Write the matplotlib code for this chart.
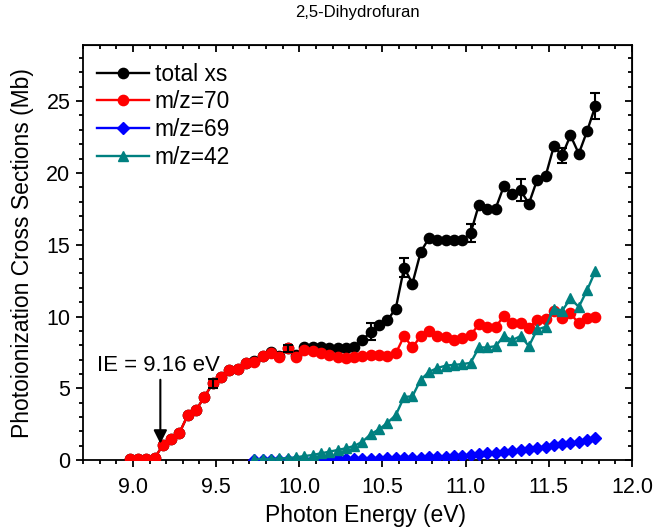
import matplotlib
matplotlib.use("Agg")
import matplotlib.pyplot as plt
import numpy as np
from matplotlib.ticker import MultipleLocator, FormatStrFormatter

plt.rcParams["font.family"] = ["Liberation Sans", "DejaVu Sans"]

# photon energies (eV) of the scan
energy = [8.98, 9.03, 9.08, 9.13, 9.18, 9.23, 9.28, 9.33, 9.38, 9.43,
          9.48, 9.53, 9.58, 9.63, 9.68, 9.73, 9.78, 9.83, 9.88, 9.93,
          9.98, 10.03, 10.08, 10.13, 10.18, 10.23, 10.28, 10.33, 10.38, 10.43,
          10.48, 10.53, 10.58, 10.63, 10.68, 10.73, 10.78, 10.83, 10.88, 10.93,
          10.98, 11.03, 11.08, 11.13, 11.18, 11.23, 11.28, 11.33, 11.38, 11.43,
          11.48, 11.53, 11.58, 11.63, 11.68, 11.73, 11.78]

total_xs = [0.10, 0.10, 0.10, 0.12, 1.06, 1.45, 1.91, 3.14, 3.49, 4.42,
            5.35, 5.81, 6.27, 6.32, 6.74, 6.88, 7.28, 7.52, 7.25, 7.80,
            7.35, 7.85, 7.89, 7.85, 7.78, 7.78, 7.78, 7.89, 8.36, 8.95,
            9.40, 9.75, 10.56, 13.40, 12.30, 14.50, 15.47, 15.36, 15.36, 15.31,
            15.31, 15.81, 17.80, 17.52, 17.52, 19.09, 18.56, 18.79, 17.86, 19.53,
            19.76, 21.85, 21.22, 22.61, 21.34, 22.91, 24.67]

mz70 = [0.10, 0.10, 0.10, 0.12, 1.06, 1.45, 1.91, 3.14, 3.49, 4.42,
        5.35, 5.81, 6.27, 6.32, 6.74, 6.85, 7.25, 7.48, 7.20, 7.78,
        7.20, 7.66, 7.61, 7.48, 7.32, 7.16, 7.09, 7.20, 7.25, 7.32,
        7.32, 7.25, 7.43, 8.64, 7.85, 8.64, 9.00, 8.64, 8.59, 8.36,
        8.48, 8.71, 9.47, 9.28, 9.28, 10.03, 9.56, 9.52, 9.21, 9.75,
        9.80, 10.40, 9.87, 10.22, 9.52, 9.87, 9.98]

# fragments are only recorded from 9.73 eV upward
frag_energy = energy[15:]

mz69 = [0.02, 0.02, 0.02, 0.03, 0.03, 0.03, 0.04, 0.04, 0.05, 0.05,
        0.06, 0.07, 0.08, 0.09, 0.10, 0.11, 0.12, 0.14, 0.15, 0.17,
        0.18, 0.20, 0.22, 0.24, 0.27, 0.30, 0.34, 0.41, 0.47, 0.52,
        0.60, 0.66, 0.72, 0.80, 0.88, 0.95, 1.03, 1.12, 1.20, 1.28,
        1.38, 1.52]

mz42 = [0.05, 0.08, 0.10, 0.12, 0.15, 0.20, 0.29, 0.36, 0.48, 0.59,
        0.71, 0.83, 0.99, 1.29, 1.82, 2.15, 2.61, 3.14, 4.40, 4.45,
        5.60, 6.15, 6.42, 6.58, 6.64, 6.69, 6.78, 7.85, 7.85, 7.94,
        8.64, 8.36, 8.64, 7.94, 9.10, 9.28, 10.56, 10.40, 11.26, 10.67,
        11.84, 13.18]

# uncertainties on the total cross section at selected energies
err_energy = [9.48, 9.93, 10.43, 10.63, 11.03, 11.33, 11.58, 11.78]
err_size = [0.30, 0.25, 0.60, 0.65, 0.60, 0.76, 0.53, 0.89]

ie_value = 9.16

fig = plt.figure(figsize=(6.57, 5.30), dpi=100)
ax = fig.add_axes([0.1263, 0.1317, 0.962 - 0.1263, 0.915 - 0.1317])

ms = 7.4
lw = 1.7
ax.plot(energy, total_xs, color="black", marker="o", ms=ms, lw=lw,
        label="total xs", zorder=2)
ax.plot(energy, mz70, color="#ff0000", marker="o", ms=ms, lw=lw,
        label="m/z=70", zorder=3)
ax.plot(frag_energy, mz69, color="#0000ff", marker="D", ms=ms * 0.82, lw=lw,
        label="m/z=69", zorder=4)
ax.plot(frag_energy, mz42, color="#008080", marker="^", ms=ms, lw=lw,
        label="m/z=42", zorder=5)

err_y = [total_xs[energy.index(e)] for e in err_energy]
ax.errorbar(err_energy, err_y, yerr=err_size, fmt="none", ecolor="black",
            elinewidth=1.5, capsize=3.4, capthick=1.5, zorder=6)

# ionization energy marker
ax.annotate("", xy=(ie_value + 0.005, 1.15), xytext=(ie_value + 0.005, 5.6),
            arrowprops=dict(arrowstyle="-|>", color="black", lw=1.5,
                            mutation_scale=20, shrinkA=0, shrinkB=0))
ax.text(8.785, 6.6, "IE = 9.16 eV", fontsize=16, ha="left", va="center")

ax.set_xlim(8.7, 12.0)
ax.set_ylim(0, 28.9)
ax.xaxis.set_major_locator(MultipleLocator(0.5))
ax.xaxis.set_minor_locator(MultipleLocator(0.1))
ax.xaxis.set_major_formatter(FormatStrFormatter("%.1f"))
ax.yaxis.set_major_locator(MultipleLocator(5))
ax.yaxis.set_minor_locator(MultipleLocator(1))
ax.tick_params(which="both", direction="out", labelsize=15.5, width=1.3)
ax.tick_params(which="major", length=5)
ax.tick_params(which="minor", length=3)
ax.tick_params(axis="x", which="major", pad=7)
ax.tick_params(axis="y", which="major", pad=4)
for spine in ax.spines.values():
    spine.set_linewidth(1.3)

# mirrored inward ticks on the top and right frame
top = ax.secondary_xaxis("top")
top.xaxis.set_major_locator(MultipleLocator(0.5))
top.xaxis.set_minor_locator(MultipleLocator(0.1))
top.tick_params(which="both", direction="in", labeltop=False, width=1.3)
top.tick_params(which="major", length=5)
top.tick_params(which="minor", length=3)
right = ax.secondary_yaxis("right")
right.yaxis.set_major_locator(MultipleLocator(5))
right.yaxis.set_minor_locator(MultipleLocator(1))
right.tick_params(which="both", direction="in", labelright=False, width=1.3)
right.tick_params(which="major", length=5)
right.tick_params(which="minor", length=3)

ax.set_xlabel("Photon Energy (eV)", fontsize=16.5)
ax.xaxis.set_label_coords(0.515, -0.106)
ax.set_ylabel("Photoionization Cross Sections (Mb)", fontsize=16.5, labelpad=9)
ax.set_title("2,5-Dihydrofuran", fontsize=12, pad=20)

ax.legend(loc="upper left", frameon=False, fontsize=16.4, handlelength=2.3,
          handletextpad=0.25, labelspacing=0.2, borderpad=0, borderaxespad=0,
          bbox_to_anchor=(0.025, 0.957))

fig.savefig("out.png", dpi=100)
